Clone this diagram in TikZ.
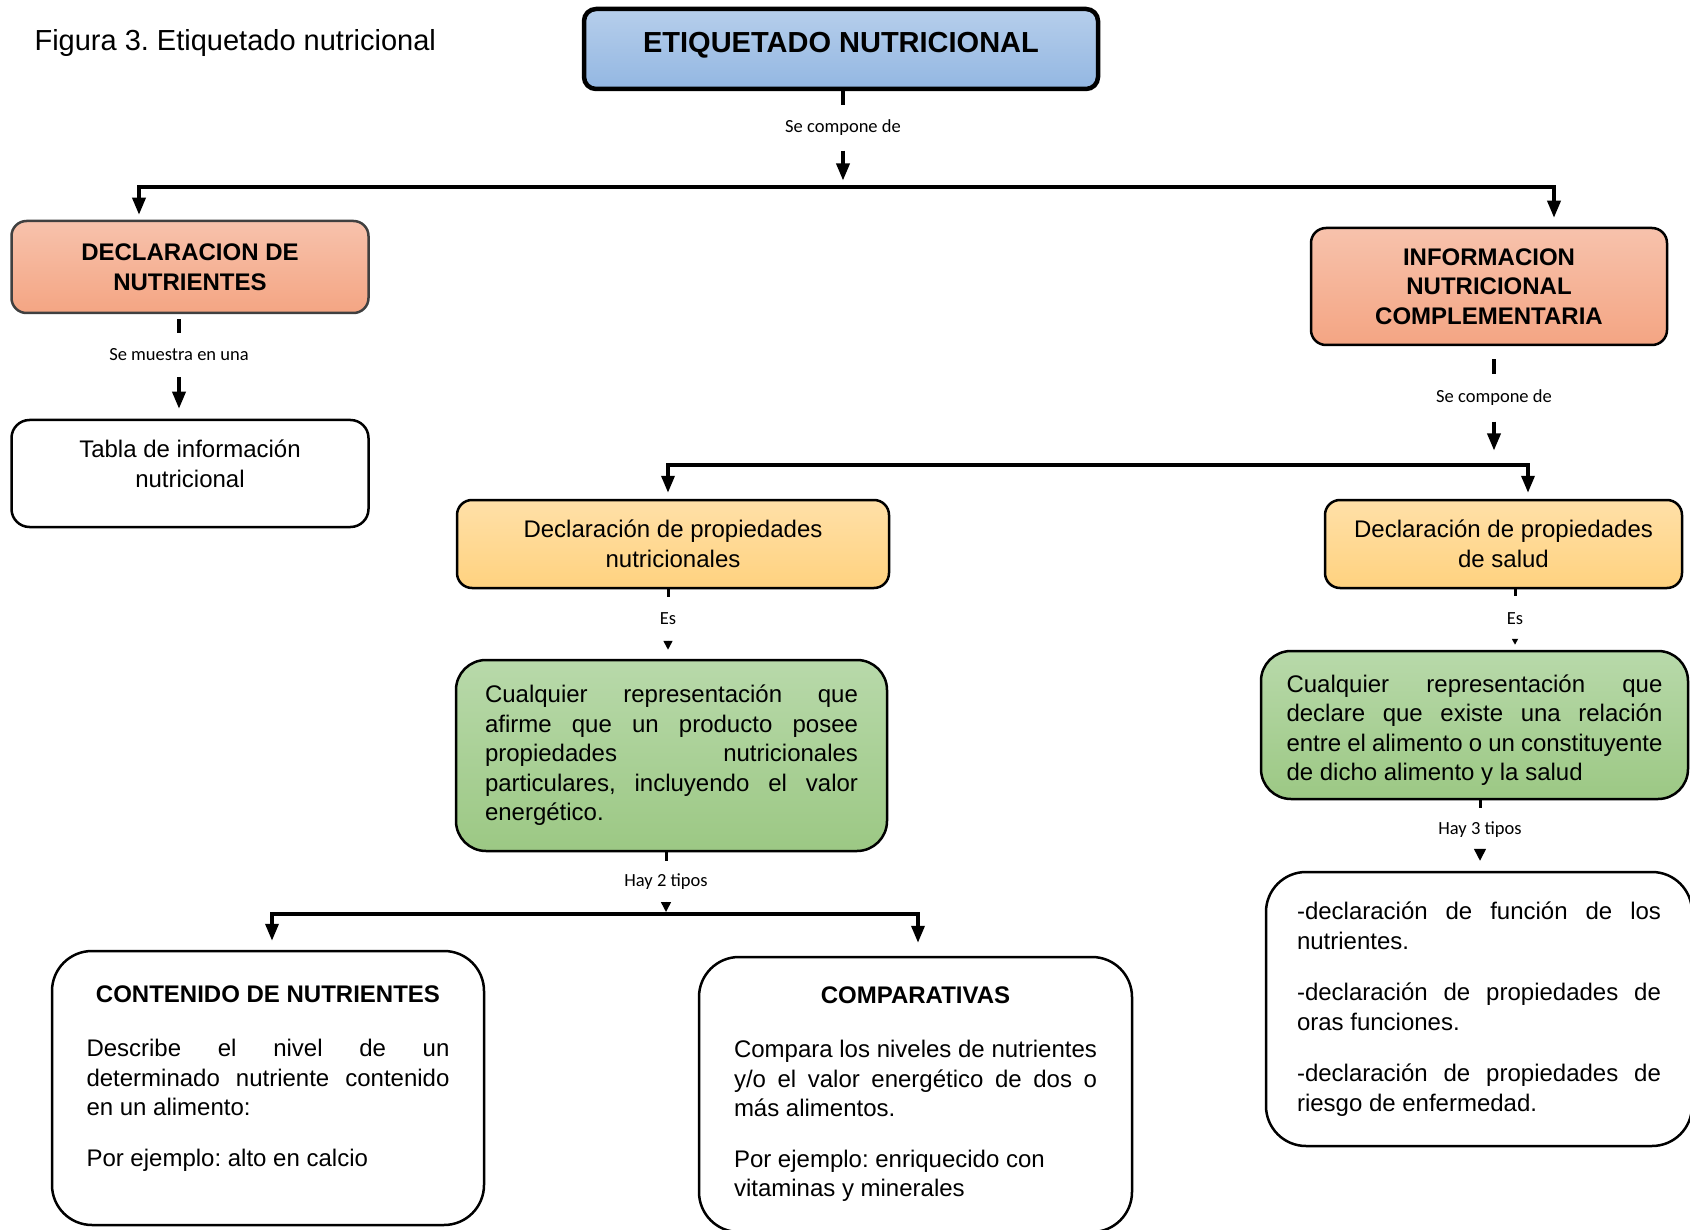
\documentclass[tikz,border=0pt]{standalone}
\usepackage{fontspec}
\setmainfont{Liberation Sans}
\newfontfamily\lblfont{Carlito}
\usetikzlibrary{arrows.meta,positioning}

\definecolor{blueTop}{HTML}{B6CEEB}
\definecolor{blueBot}{HTML}{93B7E2}
\definecolor{salmonTop}{HTML}{F7C2AC}
\definecolor{salmonBot}{HTML}{F4A583}
\definecolor{yellowTop}{HTML}{FFE0A8}
\definecolor{yellowBot}{HTML}{FFD27F}
\definecolor{greenTop}{HTML}{B8D9AA}
\definecolor{greenBot}{HTML}{9CC884}
\definecolor{declGray}{HTML}{404040}

\tolerance=10000
\hbadness=10000
\hyphenpenalty=10000
\frenchspacing

\begin{document}
\begin{tikzpicture}[x=1pt, y=-1pt,
        boxbase/.style={draw=black, line width=2.5pt, inner sep=0pt, align=center,
            font=\fontsize{24}{29.5}\selectfont},
        topbox/.style={draw=black, line width=4.5pt, inner sep=0pt, rounded corners=12pt,
            top color=blueTop, bottom color=blueBot, text height=21pt, text depth=13pt,
            font=\fontsize{29}{34}\selectfont\bfseries},
        headbox/.style={boxbase, rounded corners=15pt, top color=salmonTop, bottom color=salmonBot,
            font=\fontsize{24}{29.5}\selectfont\bfseries},
        plainbox/.style={boxbase, fill=white},
        propbox/.style={boxbase, rounded corners=15pt, top color=yellowTop, bottom color=yellowBot},
        defbox/.style={boxbase, align=justify, rounded corners=30pt, top color=greenTop, bottom color=greenBot},
        typebox/.style={boxbase, align=justify, rounded corners=40pt, fill=white},
        lbl/.style={inner sep=0pt, font=\lblfont\fontsize{18.5}{22}\selectfont},
        stubline/.style={line width=4pt},
        thinstub/.style={line width=3pt},
        barline/.style={line width=4pt, line cap=rect},
        arrline/.style={line width=3.5pt, -{Triangle[width=13pt,length=17pt]}},
        smalltip/.style={line width=1.5pt, -{Triangle[width=#1,length=#1]}}]
            \path[use as bounding box, fill=white] (0,0) rectangle (1690,1230);
            \clip (0,0) rectangle (1690,1230);

            % Nodes with manual coordinates
            \node[anchor=west, font=\fontsize{29}{34}\selectfont] (fig) at (31,43) {Figura 3. Etiquetado nutricional};
            \node[topbox, minimum width=514pt, minimum height=80pt] (top) at (841,49) {ETIQUETADO NUTRICIONAL};

            \node[headbox, draw=declGray, minimum width=357pt, minimum height=92pt] (decl) at (190,267) {DECLARACION DE\\NUTRIENTES};
            \node[plainbox, rounded corners=18pt, minimum width=357pt, minimum height=107pt] (tabla) at (190,473.5) {Tabla de información\\nutricional\\[-9.5pt]\mbox{}};
            \node[headbox, minimum width=356pt, minimum height=117pt] (info) at (1489,286.5) {INFORMACION\\NUTRICIONAL\\COMPLEMENTARIA};

            \node[propbox, minimum width=432pt, minimum height=88pt] (pnut) at (673,544) {Declaración de propiedades\\nutricionales};
            \node[propbox, minimum width=357pt, minimum height=88pt] (psal) at (1503.5,544) {Declaración de propiedades\\de salud};

            \node[defbox, text width=373pt, minimum width=431pt, minimum height=191pt] (defA) at (671.5,755.5) {Cualquier representación que\linebreak afirme que un producto posee\linebreak propiedades nutricionales\linebreak particulares, incluyendo el valor\linebreak energético.};
            \node[defbox, text width=376pt, minimum width=427pt, minimum height=148pt] (defB) at (1474.5,725) {\rule{0pt}{27.5pt}Cualquier representación que\linebreak declare que existe una relación\linebreak entre el alimento o un constituyente\linebreak de dicho alimento y la salud};

            \node[typebox, text width=363pt, minimum width=432pt, minimum height=274pt] (cont) at (268,1088) {{\centering\bfseries CONTENIDO DE NUTRIENTES\par}\vspace{24.5pt}Describe el nivel de un\linebreak determinado nutriente contenido\linebreak en un alimento:\par\vspace{21pt}Por ejemplo: alto en calcio\par\vspace{-6pt}\mbox{}};
            \node[typebox, text width=363pt, minimum width=433pt, minimum height=275pt] (comp) at (915.5,1094.5) {{\centering\bfseries COMPARATIVAS\par}\vspace{24.5pt}Compara los niveles de nutrientes\linebreak y/o el valor energético de dos o\linebreak más alimentos.\par\vspace{21pt}Por ejemplo: enriquecido con\\vitaminas y minerales};
            \node[typebox, text width=364pt, minimum width=426pt, minimum height=274pt] (tipos) at (1479,1009) {-declaración de función de los\linebreak nutrientes.\par\vspace{22pt}-declaración de propiedades de\linebreak oras funciones.\par\vspace{22pt}-declaración de propiedades de\linebreak riesgo de enfermedad.};

            \node[lbl, minimum height=45pt] (lblTop) at (843,128) {Se compone de};
            \node[lbl, minimum height=44pt] (lblDecl) at (179,355) {Se muestra en una};
            \node[lbl, minimum height=47pt] (lblInfo) at (1494,398) {Se compone de};
            \node[lbl, minimum height=43pt] (lblEsA) at (668,619) {Es};
            \node[lbl, minimum height=44pt] (lblEsB) at (1515,618.5) {Es};
            \node[lbl, minimum height=40pt] (lblHay2) at (666,881.5) {Hay 2 tipos};
            \node[lbl, minimum height=43pt] (lblHay3) at (1480,830) {Hay 3 tipos};

            \coordinate (barAl) at (139,187.5);
            \coordinate (barAr) at (1554,187.5);
            \coordinate (barBl) at (668,465.5);
            \coordinate (barBr) at (1528,465.5);
            \coordinate (barCl) at (272,914);
            \coordinate (barCr) at (918,914);

            % Edges
            \draw[stubline] (top.south -| lblTop) -- (lblTop.north);
            \draw[arrline, shorten >=7pt] (lblTop.south) -- (lblTop.south |- barAl);
            \draw[barline] (barAl) -- (barAr);
            \draw[arrline, shorten >=5pt] (barAl) -- (barAl |- decl.north);
            \draw[arrline, shorten >=9pt] (barAr) -- (barAr |- info.north);

            \draw[stubline, shorten <=5pt] (decl.south -| lblDecl) -- (lblDecl.north);
            \draw[arrline, shorten >=10pt] (lblDecl.south) -- (lblDecl.south |- tabla.north);

            \draw[stubline, shorten <=13pt] (info.south -| lblInfo) -- (lblInfo.north);
            \draw[arrline, shorten >=15pt] (lblInfo.south) -- (lblInfo.south |- barBl);
            \draw[barline] (barBl) -- (barBr);
            \draw[arrline, shorten >=6pt] (barBl) -- (barBl |- pnut.north);
            \draw[arrline, shorten >=6pt] (barBr) -- (barBr |- psal.north);

            \draw[thinstub] (pnut.south -| lblEsA) -- (lblEsA.north);
            \draw[smalltip=9pt, shorten >=9pt] (lblEsA.south) -- (lblEsA.south |- defA.north);
            \draw[thinstub] (psal.south -| lblEsB) -- (lblEsB.north);
            \draw[smalltip=6pt, shorten >=5pt] (lblEsB.south) -- (lblEsB.south |- defB.north);

            \draw[thinstub] (defA.south -| lblHay2) -- (lblHay2.north);
            \draw[smalltip=10pt, shorten >=2pt] (lblHay2.south) -- (lblHay2.south |- barCl);
            \draw[barline] (barCl) -- (barCr);
            \draw[arrline, shorten >=9pt] (barCl) -- (barCl |- cont.north);
            \draw[arrline, shorten >=13pt] (barCr) -- (barCr |- comp.north);

            \draw[thinstub] (defB.south -| lblHay3) -- (lblHay3.north);
            \draw[smalltip=12pt, shorten >=10pt] (lblHay3.south) -- (lblHay3.south |- tipos.north);
\end{tikzpicture}
\end{document}
